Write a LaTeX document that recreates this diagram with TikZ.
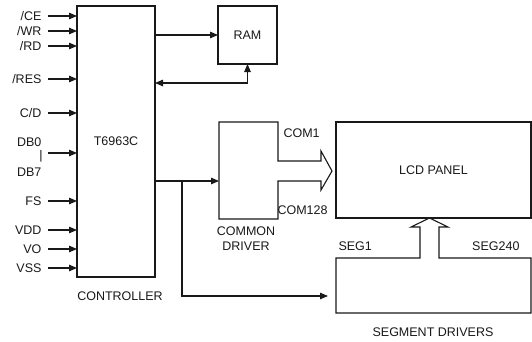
\documentclass[tikz,border=0pt]{standalone}
\usepackage{fontspec}
\setmainfont{Liberation Sans}
\usetikzlibrary{arrows.meta,calc}
\begin{document}
\begin{tikzpicture}[x=1pt,y=-1pt,
  line width=1.1pt,
  every node/.style={font=\fontsize{12.5}{15}\selectfont, text=black!90},
  box/.style={draw=black!90, rectangle, inner sep=0pt, outer sep=0pt, anchor=north west},
  plainbox/.style={rectangle, inner sep=0pt, outer sep=0pt, anchor=north west},
  sig/.style={anchor=east, inner sep=0pt},
  arr/.style={draw=black!90, -{Triangle[length=8pt,width=6.5pt]}},
  biarr/.style={draw=black!90, {Triangle[length=8pt,width=6.5pt]}-{Triangle[length=8pt,width=6.5pt]}},
  outl/.style={draw=black!90, line join=miter}
]
\useasboundingbox (0,0) rectangle (532,341);

% blocks
\node[box, minimum width=78pt, minimum height=271pt] (ctrl) at (77,6) {};
\node at (ctrl.center) {T6963C};
\node[box, minimum width=59pt, minimum height=58pt] (ram) at (218,6) {RAM};
\node[plainbox, minimum width=59pt, minimum height=97pt] (cd) at (219,122) {};
\node[box, minimum width=195pt, minimum height=96pt] (lcd) at (336,122) {LCD PANEL};
\node[plainbox, minimum width=195pt, minimum height=55pt] (seg) at (336,258) {};

% common driver outline with hollow arrow
\draw[outl] (cd.east |- 0,161) -- (cd.north east) -- (cd.north west) -- (cd.south west)
  -- (cd.south east) -- (cd.east |- 0,181) -- (321,181) -- (321,190) -- (332,171)
  -- (321,151) -- (321,161) -- cycle;

% segment drivers outline with hollow arrow
\draw[outl] (420,258) -- (seg.north west) -- (seg.south west) -- (seg.south east)
  -- (seg.north east) -- (439,258) -- (439,227) -- (448,227) -- (429.5,218)
  -- (411,227) -- (420,227) -- cycle;

% labels
\node[inner sep=0pt] (lctrl) at (120,296) {CONTROLLER};
\node[inner sep=0pt, align=center] (lcd2) at (246,238.5) {COMMON\\DRIVER};
\node[inner sep=0pt] (lseg) at (433,332) {SEGMENT DRIVERS};
\node[inner sep=0pt, anchor=west] (com1) at (283,133) {COM1};
\node[inner sep=0pt, anchor=west] (com128) at (277,210) {COM128};
\node[inner sep=0pt, anchor=west] (seg1) at (338,246) {SEG1};
\node[inner sep=0pt, anchor=east] (seg240) at (520,246) {SEG240};

% input signals
\foreach \name/\lab/\y in {ce/{{/CE}}/16, wr/{{/WR}}/31, rd/{{/RD}}/46, res/{{/RES}}/79, cdd/{{C/D}}/113,
    fs/FS/201, vdd/VDD/230, vo/VO/249, vss/VSS/268} {
  \node[sig] (s\name) at (42,\y) {\lab};
  \coordinate (t\name) at (48,\y);
  \draw[arr] (t\name) -- (ctrl.west |- t\name);
}
\node[sig] (sdb0) at (42,142) {DB0};
\node[inner sep=0pt] (sbar) at (41,156) {|};
\node[sig] (sdb7) at (42,172) {DB7};
\coordinate (tdb) at (48,153);
\draw[arr] (tdb) -- (ctrl.west |- tdb);

% controller <-> RAM
\draw[arr] (ctrl.east |- ram.west) -- (ram.west);
\coordinate (rb) at (ctrl.east |- 0,83);
\draw[biarr] (rb) -| (ram.south);

% controller -> common driver and segment drivers
\coordinate (c1) at (ctrl.east |- 0,181);
\draw[arr] (c1) -- (cd.west |- c1);
\coordinate (br) at (182,181);
\coordinate (segin) at (328,296);
\draw[arr] (br) |- (segin);
\end{tikzpicture}
\end{document}
